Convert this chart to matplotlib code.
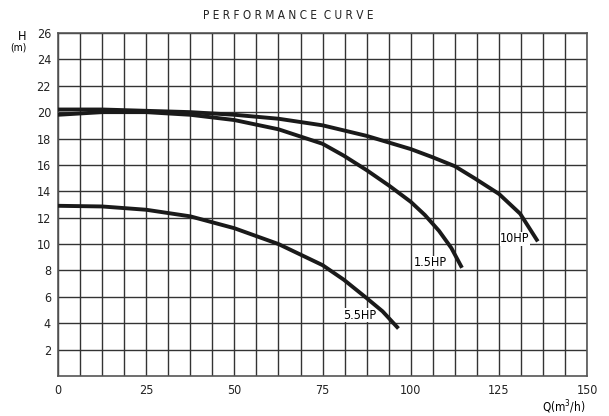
import numpy as np
import matplotlib
matplotlib.use("Agg")
import matplotlib.pyplot as plt

# pump curves
q_10hp = [0, 12.5, 25, 37.5, 50, 62.5, 75, 87.5, 100, 106, 112.5, 118, 125, 131, 136]
h_10hp = [20.2, 20.2, 20.1, 20.0, 19.8, 19.5, 19.0, 18.2, 17.2, 16.6, 15.9, 15.0, 13.8, 12.3, 10.2]

q_15hp = [0, 12.5, 25, 37.5, 50, 62.5, 75, 81, 87.5, 94, 100, 104, 108, 111.5, 114.5]
h_15hp = [19.8, 20.0, 20.0, 19.8, 19.4, 18.7, 17.6, 16.7, 15.6, 14.4, 13.2, 12.2, 11.0, 9.7, 8.2]

q_55hp = [0, 12.5, 25, 37.5, 50, 62.5, 75, 81, 87.5, 92, 96.5]
h_55hp = [12.9, 12.85, 12.6, 12.1, 11.2, 10.0, 8.4, 7.3, 5.9, 4.9, 3.6]

x_ticks = [0, 25, 50, 75, 100, 125, 150]
y_ticks = [2, 4, 6, 8, 10, 12, 14, 16, 18, 20, 22, 24, 26]

plt.rcParams['font.family'] = ['DejaVu Sans']
plt.rcParams['font.stretch'] = 'condensed'

fig = plt.figure(figsize=(6.09, 4.16), dpi=100)
ax = fig.add_axes([0.0952, 0.0962, 0.869, 0.8245])

ax.set_xlim(0, 150)
ax.set_ylim(0, 26)
ax.set_xticks(x_ticks)
ax.set_yticks(y_ticks)
ax.set_xticks(np.arange(0, 150.1, 6.25), minor=True)
ax.grid(True, which='both', color='#333333', lw=1.0)
ax.tick_params(which='both', length=0, labelsize=9, colors='#222222')
ax.tick_params(axis='x', pad=6)
ax.tick_params(axis='y', pad=5)
for s in ax.spines.values():
    s.set_color('#555555')
    s.set_linewidth(1.2)

for q, h in [(q_10hp, h_10hp), (q_15hp, h_15hp), (q_55hp, h_55hp)]:
    ax.plot(q, h, color='#1a1a1a', lw=2.8, solid_capstyle='butt',
            solid_joinstyle='round', zorder=3)

ax.text(129.5, 10.4, '10HP', ha='center', va='center', fontsize=9,
        bbox=dict(facecolor='white', edgecolor='none', pad=0.3), zorder=2.5)
ax.text(105.5, 8.6, '1.5HP', ha='center', va='center', fontsize=9,
        bbox=dict(facecolor='white', edgecolor='none', pad=0.3), zorder=2.5)
ax.text(85.5, 4.6, '5.5HP', ha='center', va='center', fontsize=9,
        bbox=dict(facecolor='white', edgecolor='none', pad=0.3), zorder=2.5)

fig.text(0.473, 0.962, 'P E R F O R M A N C E  C U R V E', ha='center', va='center',
         fontsize=8.5, color='#222222')
fig.text(0.036, 0.912, 'H', ha='center', va='center', fontsize=9)
fig.text(0.031, 0.885, '(m)', ha='center', va='center', fontsize=7.5)
fig.text(0.925, 0.022, 'Q(m$^3$/h)', ha='center', va='center', fontsize=8.5)

fig.savefig('out.png', dpi=100)
